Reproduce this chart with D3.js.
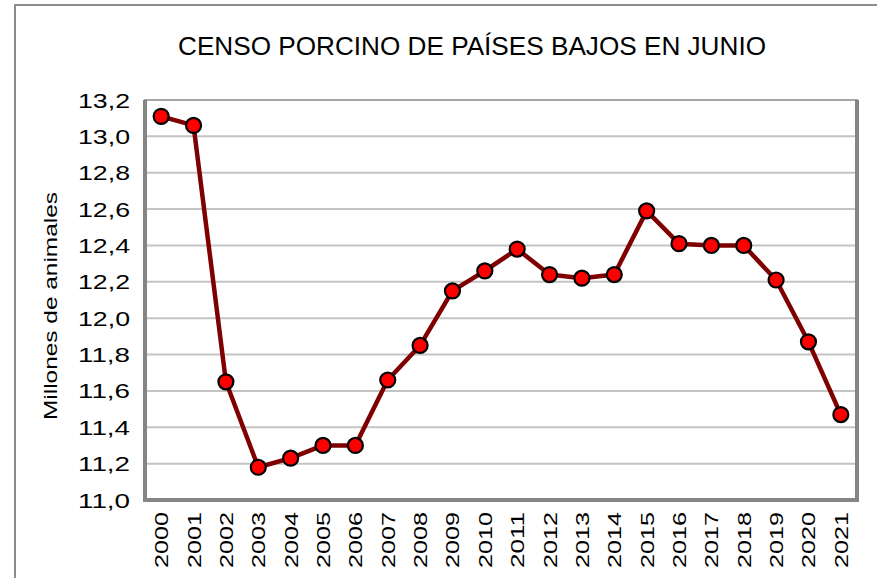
<!DOCTYPE html>
<html>
<head>
<meta charset="utf-8">
<script src="https://d3js.org/d3.v7.min.js"></script>
<style>
  body { margin: 0; background: #fff; }
  text { font-family: "Liberation Sans", Arial, sans-serif; fill: #000; }
</style>
</head>
<body>
<svg id="chart"></svg>
<script>
const censo = [
    { year: 2000, value: 13.11 }, { year: 2001, value: 13.06 },
    { year: 2002, value: 11.65 }, { year: 2003, value: 11.18 },
    { year: 2004, value: 11.23 }, { year: 2005, value: 11.30 },
    { year: 2006, value: 11.30 }, { year: 2007, value: 11.66 },
    { year: 2008, value: 11.85 }, { year: 2009, value: 12.15 },
    { year: 2010, value: 12.26 }, { year: 2011, value: 12.38 },
    { year: 2012, value: 12.24 }, { year: 2013, value: 12.22 },
    { year: 2014, value: 12.24 }, { year: 2015, value: 12.59 },
    { year: 2016, value: 12.41 }, { year: 2017, value: 12.40 },
    { year: 2018, value: 12.40 }, { year: 2019, value: 12.21 },
    { year: 2020, value: 11.87 }, { year: 2021, value: 11.47 }
];

var width = 877, height = 578;
var plot = { left: 145, top: 100, right: 857, bottom: 500 };

var svg = d3.select("#chart")
    .attr("width", width)
    .attr("height", height);

// outer chart frame
svg.append("rect")
    .attr("x", 15).attr("y", 5)
    .attr("width", 900).attr("height", 600)
    .attr("fill", "#fff")
    .attr("stroke", "#8c8c8c")
    .attr("stroke-width", 2);

var x = d3.scaleBand()
    .domain(censo.map(d => d.year))
    .range([plot.left, plot.right]);

var y = d3.scaleLinear()
    .domain([11.0, 13.2])
    .range([plot.bottom, plot.top]);

var ticks = d3.range(11.0, 13.21, 0.2);
var fmt = d => d3.format(".1f")(d).replace(".", ",");

// grid lines
svg.append("g")
    .selectAll("line")
    .data(ticks.slice(1))
    .enter()
    .append("line")
    .attr("x1", plot.left).attr("x2", plot.right)
    .attr("y1", d => y(d)).attr("y2", d => y(d))
    .attr("stroke", "#c4c4c4")
    .attr("stroke-width", 2);

// plot area border (light top, heavier left/bottom/right like the Excel shadow)
svg.append("rect")
    .attr("x", plot.left).attr("y", plot.top)
    .attr("width", plot.right - plot.left)
    .attr("height", plot.bottom - plot.top)
    .attr("fill", "none")
    .attr("stroke", "#a6a6a6")
    .attr("stroke-width", 2);
svg.append("path")
    .attr("d", `M${plot.left},${plot.top} V${plot.bottom} H${plot.right} V${plot.top}`)
    .attr("fill", "none")
    .attr("stroke", "#858585")
    .attr("stroke-width", 4);

// y tick labels
svg.append("g")
    .selectAll("text")
    .data(ticks)
    .enter()
    .append("text")
    .attr("x", 130)
    .attr("y", d => y(d))
    .attr("dy", "0.36em")
    .attr("text-anchor", "end")
    .attr("font-size", 21)
    .attr("textLength", 52)
    .attr("lengthAdjust", "spacingAndGlyphs")
    .text(fmt);

// x tick labels, rotated
svg.append("g")
    .selectAll("text")
    .data(censo)
    .enter()
    .append("text")
    .attr("transform", d => `translate(${x(d.year) + x.bandwidth() / 2 + 7},512) rotate(-90)`)
    .attr("text-anchor", "end")
    .attr("font-size", 19)
    .attr("textLength", 56)
    .attr("lengthAdjust", "spacingAndGlyphs")
    .text(d => d.year);

// y axis title
svg.append("text")
    .attr("transform", "translate(57,306) rotate(-90)")
    .attr("text-anchor", "middle")
    .attr("font-size", 19)
    .attr("textLength", 228)
    .attr("lengthAdjust", "spacingAndGlyphs")
    .text("Millones de animales");

// title
svg.append("text")
    .attr("x", 472)
    .attr("y", 55)
    .attr("text-anchor", "middle")
    .attr("font-size", 25)
    .attr("textLength", 588)
    .attr("lengthAdjust", "spacingAndGlyphs")
    .text("CENSO PORCINO DE PAÍSES BAJOS EN JUNIO");

var line = d3.line()
    .x(d => x(d.year) + x.bandwidth() / 2)
    .y(d => y(d.value));

svg.append("path")
    .datum(censo)
    .attr("d", line)
    .attr("fill", "none")
    .attr("stroke", "#7f0000")
    .attr("stroke-width", 4.5)
    .attr("stroke-linejoin", "round");

svg.append("g")
    .selectAll("circle")
    .data(censo)
    .enter()
    .append("circle")
    .attr("cx", d => x(d.year) + x.bandwidth() / 2)
    .attr("cy", d => y(d.value))
    .attr("r", 7.5)
    .attr("fill", "#ff0000")
    .attr("stroke", "#000")
    .attr("stroke-width", 2.2);
</script>
</body>
</html>
